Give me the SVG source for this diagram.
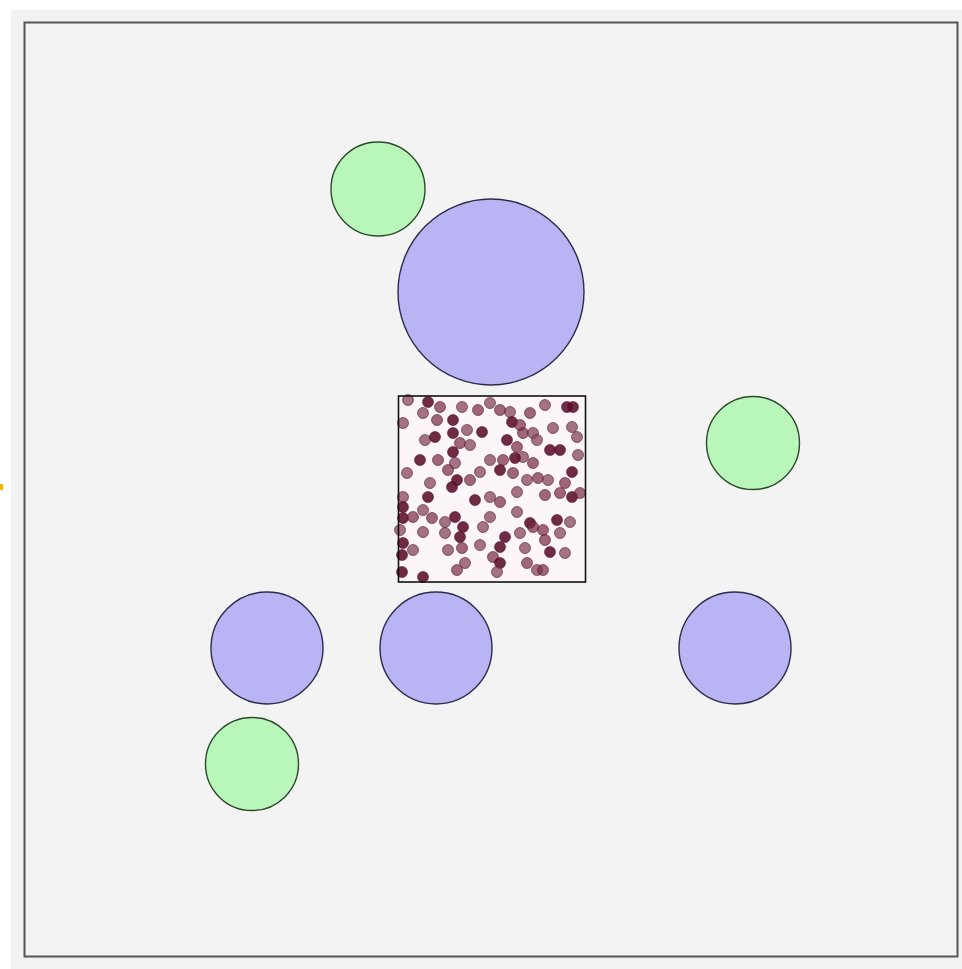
<svg xmlns="http://www.w3.org/2000/svg" width="962" height="969" viewBox="0 0 962 969">
<style>
.g{fill:#b9f6b9;stroke:#2a4a2a;stroke-width:1.4}
.p{fill:#b9b5f5;stroke:#2e2b4a;stroke-width:1.4}
.d circle{r:5.5;fill:#7a2c47;fill-opacity:.72;stroke:#4a0b20;stroke-opacity:.55;stroke-width:1}
.d circle.k{fill:#5c0f2a;fill-opacity:.88}
.d circle.l{fill:#8a4e62;fill-opacity:.78}
</style>
<rect x="0" y="0" width="962" height="969" fill="#ffffff"/>
<rect x="11" y="10" width="951" height="959" fill="#f2f2f2"/>
<rect x="24.5" y="22.5" width="933" height="934" fill="#f3f3f3" stroke="#555" stroke-width="2"/>
<rect x="0" y="484" width="3" height="6" fill="#f5b400"/>
<g id="connectors"/>
<g id="green1"><circle class="g" cx="378" cy="189" r="47"/></g>
<g id="purple-big"><circle class="p" cx="491" cy="292" r="93"/></g>
<g id="green2"><circle class="g" cx="753" cy="443" r="46.5"/></g>
<g id="purple1"><circle class="p" cx="267" cy="648" r="56"/></g>
<g id="purple2"><circle class="p" cx="436" cy="648" r="56"/></g>
<g id="purple3"><circle class="p" cx="735" cy="648" r="56"/></g>
<g id="green3"><circle class="g" cx="252" cy="764" r="46.5"/></g>
<g id="square">
<rect x="398.5" y="396" width="187" height="186" fill="#fdf6f8"/>
<g class="d">
<circle cx="408" cy="400" class="l"/><circle cx="428" cy="402" class="k"/><circle cx="440" cy="407"/><circle cx="462" cy="407" class="l"/><circle cx="478" cy="410"/><circle cx="490" cy="403" class="l"/><circle cx="500" cy="410"/><circle cx="510" cy="412" class="l"/><circle cx="530" cy="413"/><circle cx="545" cy="405" class="l"/><circle cx="573" cy="407" class="k"/>
<circle cx="403" cy="423" class="l"/><circle cx="423" cy="413" class="l"/><circle cx="453" cy="420" class="k"/><circle cx="467" cy="430" class="l"/><circle cx="482" cy="432" class="k"/><circle cx="512" cy="422" class="k"/><circle cx="523" cy="433"/><circle cx="533" cy="433" class="l"/><circle cx="553" cy="428" class="l"/><circle cx="572" cy="427" class="l"/>
<circle cx="425" cy="440" class="l"/><circle cx="435" cy="437" class="k"/><circle cx="453" cy="433" class="k"/><circle cx="453" cy="452" class="k"/><circle cx="460" cy="443"/><circle cx="507" cy="440" class="k"/><circle cx="517" cy="447"/><circle cx="537" cy="440" class="l"/><circle cx="550" cy="450" class="k"/><circle cx="560" cy="450" class="k"/><circle cx="577" cy="437" class="l"/>
<circle cx="420" cy="460" class="k"/><circle cx="438" cy="460"/><circle cx="455" cy="463" class="l"/><circle cx="490" cy="460" class="l"/><circle cx="503" cy="460"/><circle cx="523" cy="457" class="l"/><circle cx="533" cy="463"/>
<circle cx="407" cy="473" class="l"/><circle cx="430" cy="483" class="l"/><circle cx="448" cy="470"/><circle cx="457" cy="480" class="k"/><circle cx="470" cy="480"/><circle cx="480" cy="472" class="l"/><circle cx="500" cy="470" class="k"/><circle cx="513" cy="473"/><circle cx="527" cy="480" class="l"/><circle cx="538" cy="478"/><circle cx="548" cy="480" class="l"/><circle cx="572" cy="472" class="k"/><circle cx="565" cy="483"/>
<circle cx="403" cy="497" class="l"/><circle cx="428" cy="497" class="k"/><circle cx="452" cy="487" class="k"/><circle cx="475" cy="500" class="k"/><circle cx="490" cy="497" class="l"/><circle cx="500" cy="502"/><circle cx="517" cy="492" class="l"/><circle cx="560" cy="493"/><circle cx="572" cy="497" class="k"/><circle cx="580" cy="493"/>
<circle cx="403" cy="507" class="k"/><circle cx="403" cy="518" class="k"/><circle cx="413" cy="517"/><circle cx="423" cy="510" class="l"/><circle cx="432" cy="518"/><circle cx="445" cy="522" class="l"/><circle cx="455" cy="517" class="k"/><circle cx="463" cy="527" class="k"/><circle cx="483" cy="527" class="l"/><circle cx="490" cy="517" class="l"/><circle cx="517" cy="512" class="l"/><circle cx="530" cy="523" class="k"/><circle cx="543" cy="530"/><circle cx="557" cy="520" class="k"/><circle cx="570" cy="522" class="l"/>
<circle cx="400" cy="530" class="l"/><circle cx="423" cy="532" class="l"/><circle cx="445" cy="533" class="l"/><circle cx="460" cy="537" class="k"/><circle cx="505" cy="537" class="k"/><circle cx="520" cy="533" class="l"/><circle cx="533" cy="527"/><circle cx="545" cy="540"/><circle cx="560" cy="533" class="l"/>
<circle cx="403" cy="543" class="k"/><circle cx="413" cy="550" class="l"/><circle cx="448" cy="550" class="l"/><circle cx="462" cy="548"/><circle cx="500" cy="547" class="k"/><circle cx="525" cy="548" class="l"/><circle cx="550" cy="552" class="k"/><circle cx="565" cy="553" class="l"/>
<circle cx="402" cy="555" class="k"/><circle cx="402" cy="572" class="k"/><circle cx="423" cy="577" class="k"/><circle cx="465" cy="563" class="l"/><circle cx="493" cy="557"/><circle cx="500" cy="563" class="k"/><circle cx="527" cy="563"/><circle cx="537" cy="570" class="l"/><circle cx="543" cy="570"/><circle cx="497" cy="572" class="l"/><circle cx="457" cy="570"/>
<circle cx="567" cy="407" class="k"/><circle cx="520" cy="425"/><circle cx="515" cy="458" class="k"/><circle cx="470" cy="445" class="l"/><circle cx="545" cy="495"/><circle cx="480" cy="545" class="l"/><circle cx="578" cy="455" class="l"/><circle cx="437" cy="420"/>
</g>
<rect x="398.5" y="396" width="187" height="186" fill="none" stroke="#111" stroke-width="1.6"/>
</g>
</svg>
